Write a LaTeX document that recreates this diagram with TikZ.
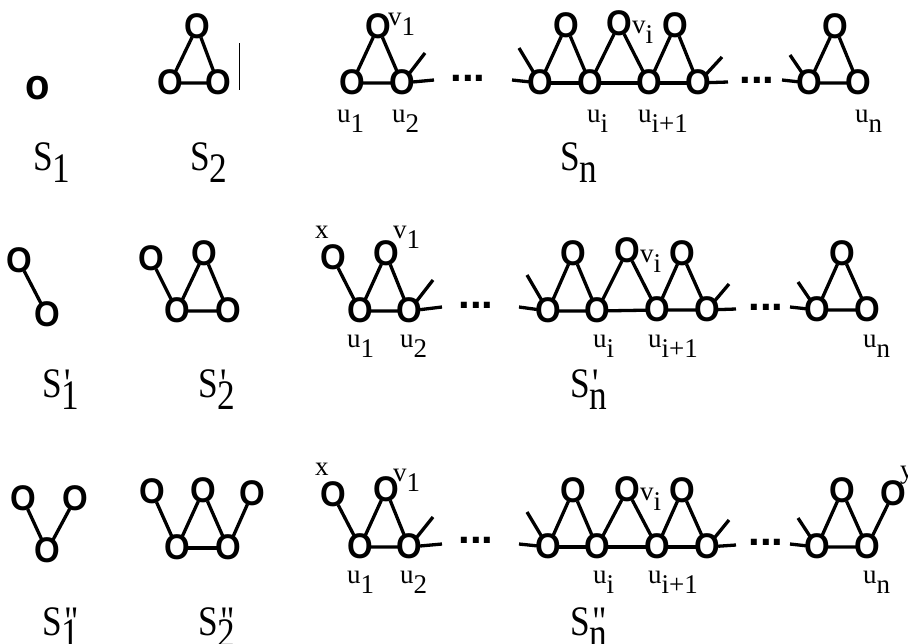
\documentclass[tikz,border=0pt]{standalone}
\usepackage{fontspec}
\setmainfont{Liberation Serif}
\setsansfont{Liberation Sans}
\usepackage{tikz}
\newcommand{\vx}[1]{\makebox[0pt]{\raisebox{-0.36em}[0pt][0pt]{\scalebox{1}[1.08]{#1}}}}
\newcommand{\dn}[1]{\raisebox{-10pt}{#1}}
\newcommand{\slab}[2]{\scalebox{0.84}[1]{S\makebox[0pt][l]{\raisebox{-12pt}{#1}}\hspace{3pt}#2}}

\begin{document}
\begin{tikzpicture}[
  x=1pt, y=-1pt,
  vtx/.style={circle, inner sep=0pt, minimum size=22pt,
              font=\fontsize{33}{33}\selectfont\sffamily\bfseries},
  edge/.style={line width=3.3pt},
  lbl/.style={anchor=base west, inner sep=0pt, font=\fontsize{27}{27}\selectfont},
  slbl/.style={anchor=base west, inner sep=0pt, font=\fontsize{42}{42}\selectfont},
  dots/.style={inner sep=0pt, font=\fontsize{42}{42}\selectfont\sffamily\bfseries},
]
  \useasboundingbox (0,0) rectangle (908,643);

  % Row 1: S_1, S_2, S_n
  \node[vtx] (r1s1) at (38,88) {\vx{\fontsize{40}{40}\selectfont o}};
  \node[vtx] (r1s2t) at (197,27) {\vx{O}};
  \node[vtx] (r1s2l) at (170,83) {\vx{O}};
  \node[vtx] (r1s2r) at (218,83) {\vx{O}};
  \draw[edge] (r1s2l) -- (r1s2t) -- (r1s2r) -- (r1s2l);
  \draw[line width=1pt] (239,43) -- (239,90);

  \node[vtx] (r1u1) at (352,83) {\vx{O}};
  \node[vtx] (r1v1) at (378,27) {\vx{O}};
  \node[vtx] (r1u2) at (402,83) {\vx{O}};
  \coordinate (r1e1) at (425,53);
  \coordinate (r1e2) at (434,80);
  \node[dots] (r1d1) at (468,78) {...};
  \coordinate (r1e3) at (512,80);
  \coordinate (r1e4) at (519,48);
  \node[vtx] (r1a)   at (540,83) {\vx{O}};
  \node[vtx] (r1t1)  at (566,26) {\vx{O}};
  \node[vtx] (r1ui)  at (590,83) {\vx{O}};
  \node[vtx] (r1vi)  at (619,24) {\vx{O}};
  \node[vtx] (r1ui1) at (649,83) {\vx{O}};
  \node[vtx] (r1t2)  at (675,26) {\vx{O}};
  \node[vtx] (r1b)   at (698,83) {\vx{O}};
  \coordinate (r1e5) at (722,57);
  \coordinate (r1e6) at (728,82);
  \node[dots] (r1d2) at (757,80) {...};
  \coordinate (r1e7) at (782,80);
  \coordinate (r1e8) at (790,55);
  \node[vtx] (r1c)  at (809,83) {\vx{O}};
  \node[vtx] (r1t3) at (835,27) {\vx{O}};
  \node[vtx] (r1un) at (858,83) {\vx{O}};

  \draw[edge] (r1u1) -- (r1v1) -- (r1u2) -- (r1u1);
  \draw[edge] (r1u2) -- (r1e1);
  \draw[edge] (r1u2) -- (r1e2);
  \draw[edge] (r1e3) -- (r1a);
  \draw[edge] (r1e4) -- (r1a);
  \draw[edge] (r1a) -- (r1t1) -- (r1ui) -- (r1vi) -- (r1ui1) -- (r1t2) -- (r1b);
  \draw[edge] (r1a) -- (r1ui) -- (r1ui1) -- (r1b);
  \draw[edge] (r1b) -- (r1e5);
  \draw[edge] (r1b) -- (r1e6);
  \draw[edge] (r1e7) -- (r1c);
  \draw[edge] (r1e8) -- (r1c);
  \draw[edge] (r1c) -- (r1t3) -- (r1un) -- (r1c);

  \node[lbl] (r1lv1)  at (388,25)  {v\dn{1}};
  \node[lbl] (r1lvi)  at (632,33)  {v\dn{i}};
  \node[lbl] (r1lu1)  at (337,122) {u\dn{1}};
  \node[lbl] (r1lu2)  at (392,122) {u\dn{2}};
  \node[lbl] (r1lui)  at (587,122) {u\dn{i}};
  \node[lbl] (r1lui1) at (638,122) {u\dn{i+1}};
  \node[lbl] (r1lun)  at (855,122) {u\dn{n}};
  \node[slbl] (r1S1) at (33,170)  {\slab{1}{}};
  \node[slbl] (r1S2) at (190,170) {\slab{2}{}};
  \node[slbl] (r1Sn) at (560,170) {\slab{n}{}};

  % Row 2: S'_1, S'_2, S'_n
  \node[vtx] (r2s1t) at (19,261) {\vx{O}};
  \node[vtx] (r2s1b) at (47,315) {\vx{O}};
  \draw[edge] (r2s1t) -- (r2s1b);
  \node[vtx] (r2s2x) at (151,259) {\vx{O}};
  \node[vtx] (r2s2t) at (204,254) {\vx{O}};
  \node[vtx] (r2s2l) at (177,311) {\vx{O}};
  \node[vtx] (r2s2r) at (228,311) {\vx{O}};
  \draw[edge] (r2s2x) -- (r2s2l) -- (r2s2t) -- (r2s2r) -- (r2s2l);

  \node[vtx] (r2x)  at (333,258) {\vx{O}};
  \node[vtx] (r2u1) at (360,311) {\vx{O}};
  \node[vtx] (r2v1) at (386,254) {\vx{O}};
  \node[vtx] (r2u2) at (409,311) {\vx{O}};
  \coordinate (r2e1) at (433,280);
  \coordinate (r2e2) at (442,307);
  \node[dots] (r2d1) at (476,305) {...};
  \coordinate (r2e3) at (519,307);
  \coordinate (r2e4) at (527,275);
  \node[vtx] (r2a)   at (548,311) {\vx{O}};
  \node[vtx] (r2t1)  at (573,254) {\vx{O}};
  \node[vtx] (r2ui)  at (597,311) {\vx{O}};
  \node[vtx] (r2vi)  at (627,251) {\vx{O}};
  \node[vtx] (r2ui1) at (657,310) {\vx{O}};
  \node[vtx] (r2t2)  at (682,254) {\vx{O}};
  \node[vtx] (r2b)   at (707,310) {\vx{O}};
  \coordinate (r2e5) at (729,284);
  \coordinate (r2e6) at (736,309);
  \node[dots] (r2d2) at (766,307) {...};
  \coordinate (r2e7) at (790,307);
  \coordinate (r2e8) at (798,282);
  \node[vtx] (r2c)  at (817,310) {\vx{O}};
  \node[vtx] (r2t3) at (842,254) {\vx{O}};
  \node[vtx] (r2un) at (867,310) {\vx{O}};

  \draw[edge] (r2x) -- (r2u1);
  \draw[edge] (r2u1) -- (r2v1) -- (r2u2) -- (r2u1);
  \draw[edge] (r2u2) -- (r2e1);
  \draw[edge] (r2u2) -- (r2e2);
  \draw[edge] (r2e3) -- (r2a);
  \draw[edge] (r2e4) -- (r2a);
  \draw[edge] (r2a) -- (r2t1) -- (r2ui) -- (r2vi) -- (r2ui1) -- (r2t2) -- (r2b);
  \draw[edge] (r2a) -- (r2ui) -- (r2ui1) -- (r2b);
  \draw[edge] (r2b) -- (r2e5);
  \draw[edge] (r2b) -- (r2e6);
  \draw[edge] (r2e7) -- (r2c);
  \draw[edge] (r2e8) -- (r2c);
  \draw[edge] (r2c) -- (r2t3) -- (r2un) -- (r2c);

  \node[lbl] (r2lx)   at (315,238) {x};
  \node[lbl] (r2lv1)  at (393,238) {v\dn{1}};
  \node[lbl] (r2lvi)  at (640,262) {v\dn{i}};
  \node[lbl] (r2lu1)  at (347,347) {u\dn{1}};
  \node[lbl] (r2lu2)  at (400,347) {u\dn{2}};
  \node[lbl] (r2lui)  at (593,347) {u\dn{i}};
  \node[lbl] (r2lui1) at (648,347) {u\dn{i+1}};
  \node[lbl] (r2lun)  at (863,347) {u\dn{n}};
  \node[slbl] (r2S1) at (42,397)  {\slab{1}{\textquotesingle}};
  \node[slbl] (r2S2) at (198,397) {\slab{2}{\textquotesingle}};
  \node[slbl] (r2Sn) at (570,397) {\slab{n}{\textquotesingle}};

  % Row 3: S''_1, S''_2, S''_n
  \node[vtx] (r3s1l) at (23,499) {\vx{O}};
  \node[vtx] (r3s1r) at (75,499) {\vx{O}};
  \node[vtx] (r3s1b) at (47,551) {\vx{O}};
  \draw[edge] (r3s1l) -- (r3s1b) -- (r3s1r);
  \node[vtx] (r3s2x) at (152,492) {\vx{O}};
  \node[vtx] (r3s2t) at (203,491) {\vx{O}};
  \node[vtx] (r3s2y) at (252,494) {\vx{O}};
  \node[vtx] (r3s2l) at (177,548) {\vx{O}};
  \node[vtx] (r3s2r) at (228,548) {\vx{O}};
  \draw[edge] (r3s2x) -- (r3s2l) -- (r3s2t) -- (r3s2r) -- (r3s2y);
  \draw[edge] (r3s2l) -- (r3s2r);

  \node[vtx] (r3x)  at (333,495) {\vx{O}};
  \node[vtx] (r3u1) at (360,547) {\vx{O}};
  \node[vtx] (r3v1) at (386,490) {\vx{O}};
  \node[vtx] (r3u2) at (409,547) {\vx{O}};
  \coordinate (r3e1) at (433,517);
  \coordinate (r3e2) at (442,544);
  \node[dots] (r3d1) at (476,540) {...};
  \coordinate (r3e3) at (519,544);
  \coordinate (r3e4) at (527,512);
  \node[vtx] (r3a)   at (548,547) {\vx{O}};
  \node[vtx] (r3t1)  at (573,491) {\vx{O}};
  \node[vtx] (r3ui)  at (597,547) {\vx{O}};
  \node[vtx] (r3vi)  at (627,490) {\vx{O}};
  \node[vtx] (r3ui1) at (657,547) {\vx{O}};
  \node[vtx] (r3t2)  at (682,491) {\vx{O}};
  \node[vtx] (r3b)   at (707,547) {\vx{O}};
  \coordinate (r3e5) at (729,520);
  \coordinate (r3e6) at (736,545);
  \node[dots] (r3d2) at (766,542) {...};
  \coordinate (r3e7) at (790,544);
  \coordinate (r3e8) at (798,518);
  \node[vtx] (r3c)  at (817,547) {\vx{O}};
  \node[vtx] (r3t3) at (842,491) {\vx{O}};
  \node[vtx] (r3un) at (867,547) {\vx{O}};
  \node[vtx] (r3y)  at (893,494) {\vx{O}};

  \draw[edge] (r3x) -- (r3u1);
  \draw[edge] (r3u1) -- (r3v1) -- (r3u2) -- (r3u1);
  \draw[edge] (r3u2) -- (r3e1);
  \draw[edge] (r3u2) -- (r3e2);
  \draw[edge] (r3e3) -- (r3a);
  \draw[edge] (r3e4) -- (r3a);
  \draw[edge] (r3a) -- (r3t1) -- (r3ui) -- (r3vi) -- (r3ui1) -- (r3t2) -- (r3b);
  \draw[edge] (r3a) -- (r3ui) -- (r3ui1) -- (r3b);
  \draw[edge] (r3b) -- (r3e5);
  \draw[edge] (r3b) -- (r3e6);
  \draw[edge] (r3e7) -- (r3c);
  \draw[edge] (r3e8) -- (r3c);
  \draw[edge] (r3c) -- (r3t3) -- (r3un) -- (r3c);
  \draw[edge] (r3un) -- (r3y);

  \node[lbl] (r3lx)   at (315,475) {x};
  \node[lbl] (r3ly)   at (900,478) {y};
  \node[lbl] (r3lv1)  at (393,481) {v\dn{1}};
  \node[lbl] (r3lvi)  at (640,500) {v\dn{i}};
  \node[lbl] (r3lu1)  at (347,583) {u\dn{1}};
  \node[lbl] (r3lu2)  at (400,583) {u\dn{2}};
  \node[lbl] (r3lui)  at (593,583) {u\dn{i}};
  \node[lbl] (r3lui1) at (648,583) {u\dn{i+1}};
  \node[lbl] (r3lun)  at (863,583) {u\dn{n}};
  \node[slbl] (r3S1) at (42,635)  {\slab{1}{\textquotedbl}};
  \node[slbl] (r3S2) at (198,635) {\slab{2}{\textquotedbl}};
  \node[slbl] (r3Sn) at (570,635) {\slab{n}{\textquotedbl}};
\end{tikzpicture}
\end{document}
